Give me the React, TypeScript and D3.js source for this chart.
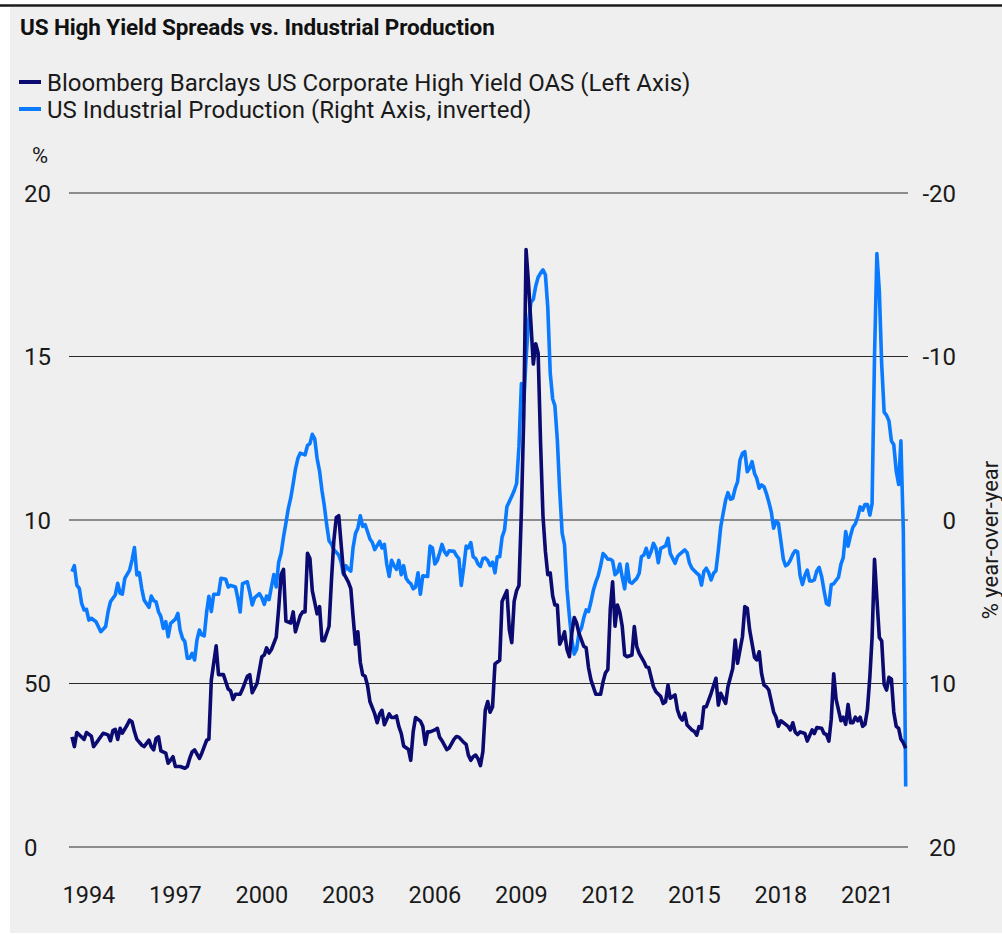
import React from "react";
import * as d3 from "d3";

// Bloomberg Barclays US Corporate High Yield OAS (%), left axis
const hyOas: [string, number][] = [
  ["1993-06", 3.37], ["1993-07", 3.07], ["1993-08", 3.5], ["1993-11", 3.29], ["1993-12", 3.5],
  ["1994-02", 3.39], ["1994-03", 3.07], ["1994-05", 3.27], ["1994-07", 3.48], ["1994-09", 3.43],
  ["1994-10", 3.25], ["1994-11", 3.56], ["1994-12", 3.6], ["1995-01", 3.29], ["1995-02", 3.63],
  ["1995-03", 3.48], ["1995-05", 3.73], ["1995-06", 3.88], ["1995-07", 3.83], ["1995-08", 3.53],
  ["1995-09", 3.29], ["1995-11", 3.12], ["1995-12", 3.07], ["1996-02", 3.27], ["1996-03", 3.07],
  ["1996-04", 2.97], ["1996-05", 3.32], ["1996-06", 3.37], ["1996-07", 2.94], ["1996-09", 2.87],
  ["1996-10", 2.56], ["1996-11", 2.66], ["1996-12", 2.76], ["1997-01", 2.46], ["1997-03", 2.46],
  ["1997-05", 2.41], ["1997-06", 2.46], ["1997-07", 2.71], ["1997-08", 2.91], ["1997-09", 2.97],
  ["1997-11", 2.71], ["1997-12", 2.87], ["1998-02", 3.27], ["1998-03", 3.3], ["1998-04", 5.11],
  ["1998-06", 6.15], ["1998-07", 5.27], ["1998-09", 5.27], ["1998-11", 4.83], ["1998-12", 4.78],
  ["1999-01", 4.51], ["1999-02", 4.67], ["1999-04", 4.67], ["1999-05", 4.83], ["1999-07", 5.22],
  ["1999-08", 5.27], ["1999-09", 4.72], ["1999-11", 5.0], ["2000-01", 5.82], ["2000-02", 5.87],
  ["2000-03", 6.09], ["2000-04", 5.93], ["2000-05", 6.04], ["2000-07", 6.42], ["2000-08", 7.29],
  ["2000-09", 8.33], ["2000-10", 8.49], ["2000-11", 6.91], ["2001-01", 6.85], ["2001-02", 7.19],
  ["2001-03", 6.58], ["2001-05", 7.07], ["2001-06", 7.19], ["2001-07", 7.19], ["2001-08", 8.98],
  ["2001-09", 8.82], ["2001-10", 7.84], ["2001-12", 7.13], ["2002-01", 7.35], ["2002-02", 6.31],
  ["2002-03", 6.31], ["2002-05", 6.75], ["2002-06", 8.17], ["2002-07", 9.37], ["2002-08", 10.08],
  ["2002-09", 10.13], ["2002-10", 9.26], ["2002-11", 8.38], ["2003-01", 8.1], ["2003-02", 7.9],
  ["2003-03", 7.07], ["2003-04", 6.2], ["2003-05", 6.58], ["2003-06", 5.65], ["2003-07", 5.27],
  ["2003-08", 5.22], ["2003-09", 4.94], ["2003-10", 4.45], ["2003-12", 4.07], ["2004-01", 3.8],
  ["2004-02", 4.07], ["2004-03", 4.18], ["2004-04", 3.74], ["2004-06", 4.07], ["2004-07", 3.96],
  ["2004-08", 3.96], ["2004-09", 4.01], ["2004-10", 3.69], ["2004-11", 3.47], ["2004-12", 3.09],
  ["2005-02", 2.98], ["2005-03", 2.65], ["2005-04", 3.52], ["2005-05", 3.96], ["2005-07", 3.85],
  ["2005-08", 3.69], ["2005-09", 3.14], ["2005-10", 3.52], ["2005-11", 3.52], ["2006-01", 3.58],
  ["2006-02", 3.63], ["2006-03", 3.36], ["2006-04", 3.25], ["2006-06", 2.98], ["2006-07", 3.03],
  ["2006-09", 3.3], ["2006-10", 3.38], ["2006-11", 3.36], ["2007-01", 3.2], ["2007-02", 3.14],
  ["2007-03", 2.81], ["2007-04", 2.65], ["2007-05", 2.76], ["2007-06", 2.81], ["2007-07", 2.7],
  ["2007-08", 2.49], ["2007-09", 2.92], ["2007-10", 4.18], ["2007-11", 4.45], ["2007-12", 4.12],
  ["2008-01", 4.28], ["2008-02", 5.6], ["2008-04", 5.71], ["2008-05", 7.51], ["2008-07", 7.84],
  ["2008-08", 6.64], ["2008-09", 6.25], ["2008-10", 7.51], ["2008-11", 7.84], ["2008-12", 8.0],
  ["2009-01", 10.3], ["2009-02", 13.3], ["2009-03", 18.27], ["2009-04", 17.23], ["2009-05", 16.03],
  ["2009-06", 14.77], ["2009-07", 15.39], ["2009-08", 15.1], ["2009-09", 12.32], ["2009-10", 10.13],
  ["2009-11", 9.04], ["2009-12", 8.33], ["2010-01", 8.38], ["2010-02", 7.68], ["2010-03", 7.4],
  ["2010-04", 7.4], ["2010-05", 6.2], ["2010-06", 6.36], ["2010-07", 6.58], ["2010-08", 6.04],
  ["2010-09", 5.82], ["2010-10", 6.53], ["2010-11", 7.02], ["2010-12", 6.85], ["2011-01", 6.53],
  ["2011-03", 6.14], ["2011-04", 6.09], ["2011-05", 5.49], ["2011-06", 5.11], ["2011-08", 4.67],
  ["2011-10", 4.67], ["2011-11", 5.05], ["2011-12", 5.32], ["2012-01", 5.43], ["2012-02", 7.29],
  ["2012-03", 8.11], ["2012-04", 6.75], ["2012-05", 7.4], ["2012-06", 7.18], ["2012-07", 6.75],
  ["2012-08", 5.87], ["2012-09", 5.82], ["2012-11", 5.87], ["2012-12", 6.74], ["2013-01", 6.13],
  ["2013-02", 5.92], ["2013-04", 5.67], ["2013-05", 5.51], ["2013-06", 5.49], ["2013-08", 4.9],
  ["2013-09", 4.75], ["2013-11", 4.6], ["2013-12", 4.39], ["2014-01", 4.44], ["2014-02", 4.95],
  ["2014-03", 4.55], ["2014-05", 4.65], ["2014-06", 4.19], ["2014-07", 3.98], ["2014-08", 3.88],
  ["2014-09", 4.09], ["2014-10", 3.73], ["2014-12", 3.58], ["2015-01", 3.53], ["2015-02", 3.42],
  ["2015-03", 3.68], ["2015-04", 3.63], ["2015-05", 4.29], ["2015-06", 4.29], ["2015-08", 4.7],
  ["2015-10", 5.16], ["2015-11", 4.34], ["2015-12", 4.7], ["2016-02", 4.39], ["2016-03", 4.9],
  ["2016-05", 5.46], ["2016-06", 6.33], ["2016-07", 5.62], ["2016-09", 6.43], ["2016-10", 7.35],
  ["2016-11", 7.3], ["2016-12", 6.64], ["2017-02", 5.8], ["2017-03", 5.72], ["2017-04", 5.97],
  ["2017-05", 5.31], ["2017-06", 4.95], ["2017-07", 4.9], ["2017-08", 4.8], ["2017-10", 4.13],
  ["2017-11", 3.97], ["2017-12", 3.69], ["2018-01", 3.86], ["2018-03", 3.75], ["2018-04", 3.69],
  ["2018-05", 3.58], ["2018-06", 3.8], ["2018-07", 3.52], ["2018-08", 3.44], ["2018-09", 3.52],
  ["2018-11", 3.47], ["2018-12", 3.24], ["2019-01", 3.41], ["2019-02", 3.58], ["2019-03", 3.47],
  ["2019-04", 3.65], ["2019-06", 3.63], ["2019-07", 3.47], ["2019-08", 3.44], ["2019-09", 3.24],
  ["2019-10", 3.91], ["2019-11", 5.3], ["2019-12", 4.52], ["2020-02", 3.86], ["2020-03", 3.97],
  ["2020-04", 3.75], ["2020-05", 4.36], ["2020-06", 3.8], ["2020-07", 3.8], ["2020-08", 3.97],
  ["2020-09", 3.86], ["2020-10", 3.97], ["2020-11", 3.69], ["2020-12", 3.75], ["2021-01", 4.2],
  ["2021-02", 5.2], ["2021-03", 6.4], ["2021-04", 8.8], ["2021-05", 7.6], ["2021-06", 6.41],
  ["2021-07", 6.3], ["2021-08", 4.97], ["2021-09", 4.8], ["2021-10", 5.19], ["2021-11", 5.13],
  ["2021-12", 4.13], ["2022-01", 3.69], ["2022-02", 3.63], ["2022-03", 3.3], ["2022-04", 3.19],
  ["2022-05", 3.02],
];

// US Industrial Production, % year-over-year, right axis (inverted)
const industrialProduction: [string, number][] = [
  ["1993-06", 3.16], ["1993-07", 2.79], ["1993-08", 3.98], ["1993-09", 4.18], ["1993-10", 5.1],
  ["1993-11", 5.5], ["1993-12", 5.46], ["1994-01", 6.12], ["1994-02", 6.01], ["1994-04", 6.22],
  ["1994-06", 6.83], ["1994-08", 6.52], ["1994-09", 5.61], ["1994-10", 5.0], ["1994-12", 4.59],
  ["1995-01", 3.87], ["1995-02", 4.48], ["1995-03", 4.53], ["1995-04", 3.57], ["1995-06", 3.06],
  ["1995-07", 2.45], ["1995-08", 1.69], ["1995-09", 3.36], ["1995-10", 3.22], ["1995-11", 4.18],
  ["1995-12", 4.89], ["1996-02", 5.34], ["1996-03", 4.65], ["1996-04", 4.93], ["1996-05", 5.0],
  ["1996-06", 5.61], ["1996-07", 5.91], ["1996-08", 6.63], ["1996-09", 6.22], ["1996-10", 7.14],
  ["1996-11", 6.32], ["1997-01", 6.07], ["1997-02", 5.71], ["1997-03", 6.73], ["1997-04", 7.24],
  ["1997-05", 7.44], ["1997-06", 8.46], ["1997-07", 8.46], ["1997-08", 8.15], ["1997-09", 8.56],
  ["1997-10", 7.34], ["1997-11", 6.73], ["1997-12", 7.03], ["1998-01", 7.09], ["1998-02", 5.61],
  ["1998-03", 4.67], ["1998-04", 5.6], ["1998-05", 4.54], ["1998-07", 4.54], ["1998-08", 3.56],
  ["1998-10", 3.63], ["1998-11", 4.1], ["1998-12", 4.0], ["1999-02", 4.1], ["1999-03", 4.76],
  ["1999-04", 5.63], ["1999-05", 3.89], ["1999-07", 3.78], ["1999-08", 4.43], ["1999-09", 5.2],
  ["1999-10", 4.76], ["1999-12", 4.5], ["2000-01", 4.76], ["2000-02", 5.16], ["2000-03", 4.65],
  ["2000-04", 4.87], ["2000-05", 4.1], ["2000-06", 3.34], ["2000-07", 4.1], ["2000-08", 2.58],
  ["2000-09", 2.03], ["2000-10", 1.05], ["2000-11", 0.18], ["2000-12", -0.7], ["2001-01", -1.35],
  ["2001-02", -2.23], ["2001-03", -3.1], ["2001-04", -3.76], ["2001-05", -4.09], ["2001-07", -3.98],
  ["2001-08", -4.56], ["2001-09", -4.67], ["2001-10", -5.24], ["2001-11", -4.96], ["2001-12", -3.76],
  ["2002-01", -2.99], ["2002-02", -1.79], ["2002-03", -0.92], ["2002-04", 0.28], ["2002-05", 1.27],
  ["2002-06", 1.49], ["2002-07", 1.81], ["2002-09", 2.14], ["2002-10", 2.58], ["2002-11", 3.34],
  ["2002-12", 2.79], ["2003-01", 3.0], ["2003-02", 3.13], ["2003-03", 1.7], ["2003-04", 0.83],
  ["2003-05", 0.5], ["2003-06", -0.26], ["2003-07", 0.39], ["2003-08", 0.28], ["2003-09", 0.72],
  ["2003-10", 1.16], ["2003-11", 1.38], ["2003-12", 1.81], ["2004-02", 1.31], ["2004-03", 1.71],
  ["2004-04", 1.49], ["2004-05", 2.69], ["2004-06", 3.45], ["2004-07", 2.47], ["2004-08", 2.79],
  ["2004-09", 3.02], ["2004-10", 2.47], ["2004-11", 3.34], ["2004-12", 2.79], ["2005-01", 3.56],
  ["2005-02", 3.78], ["2005-03", 3.89], ["2005-04", 4.21], ["2005-05", 4.1], ["2005-06", 3.23],
  ["2005-07", 4.54], ["2005-08", 3.41], ["2005-10", 3.45], ["2005-11", 1.6], ["2005-12", 1.71],
  ["2006-01", 2.69], ["2006-02", 2.47], ["2006-03", 2.03], ["2006-04", 1.49], ["2006-05", 1.92],
  ["2006-06", 2.14], ["2006-07", 1.88], ["2006-09", 1.92], ["2006-10", 2.18], ["2006-11", 2.36],
  ["2006-12", 4.0], ["2007-01", 2.91], ["2007-02", 1.6], ["2007-03", 1.71], ["2007-04", 1.38],
  ["2007-05", 2.25], ["2007-06", 2.36], ["2007-07", 2.69], ["2007-08", 2.84], ["2007-09", 2.36],
  ["2007-10", 2.32], ["2007-11", 2.47], ["2007-12", 2.79], ["2008-01", 2.58], ["2008-02", 3.23],
  ["2008-03", 2.25], ["2008-04", 2.25], ["2008-05", 1.05], ["2008-06", 0.61], ["2008-07", -0.81],
  ["2008-09", -1.46], ["2008-10", -1.79], ["2008-11", -2.23], ["2008-12", -4.5], ["2009-01", -8.34],
  ["2009-02", -7.25], ["2009-03", -9.9], ["2009-04", -12.1], ["2009-05", -13.3], ["2009-06", -13.5],
  ["2009-07", -14.3], ["2009-08", -14.85], ["2009-09", -15.1], ["2009-10", -15.3], ["2009-11", -15.0],
  ["2009-12", -13.0], ["2010-01", -9.0], ["2010-02", -7.4], ["2010-03", -7.0], ["2010-04", -4.9],
  ["2010-05", -1.8], ["2010-06", 0.8], ["2010-07", 1.5], ["2010-08", 4.2], ["2010-09", 5.9],
  ["2010-10", 7.3], ["2010-11", 8.2], ["2010-12", 7.9], ["2011-01", 6.9], ["2011-02", 6.6],
  ["2011-03", 6.0], ["2011-04", 5.5], ["2011-05", 5.6], ["2011-06", 5.0], ["2011-07", 4.3],
  ["2011-08", 3.8], ["2011-09", 3.4], ["2011-10", 2.8], ["2011-11", 2.05], ["2011-12", 2.2],
  ["2012-01", 2.4], ["2012-02", 2.4], ["2012-03", 2.5], ["2012-04", 3.34], ["2012-05", 3.2],
  ["2012-06", 2.69], ["2012-07", 3.5], ["2012-08", 4.21], ["2012-09", 2.69], ["2012-10", 3.77],
  ["2012-11", 3.87], ["2013-01", 3.57], ["2013-02", 3.26], ["2013-03", 2.24], ["2013-04", 2.14],
  ["2013-05", 1.73], ["2013-06", 2.28], ["2013-07", 1.94], ["2013-08", 1.43], ["2013-09", 1.73],
  ["2013-10", 2.61], ["2013-11", 1.73], ["2014-01", 1.59], ["2014-02", 1.12], ["2014-03", 2.04],
  ["2014-05", 2.65], ["2014-06", 2.24], ["2014-07", 2.08], ["2014-09", 1.83], ["2014-10", 2.0],
  ["2014-11", 2.65], ["2014-12", 2.95], ["2015-02", 3.26], ["2015-03", 3.36], ["2015-04", 3.98],
  ["2015-05", 3.16], ["2015-06", 2.95], ["2015-07", 3.22], ["2015-08", 3.67], ["2015-09", 3.26],
  ["2015-10", 3.1], ["2015-11", 1.83], ["2015-12", 0.41], ["2016-01", -0.41], ["2016-02", -1.22],
  ["2016-03", -1.67], ["2016-04", -1.27], ["2016-05", -1.33], ["2016-06", -1.94], ["2016-07", -2.34],
  ["2016-08", -3.67], ["2016-09", -4.08], ["2016-10", -4.18], ["2016-11", -2.95], ["2016-12", -3.16],
  ["2017-01", -3.57], ["2017-02", -2.85], ["2017-03", -2.55], ["2017-04", -1.94], ["2017-05", -2.14],
  ["2017-06", -2.04], ["2017-07", -1.63], ["2017-08", -1.1], ["2017-09", -0.5], ["2017-10", 0.5],
  ["2017-11", 0.06], ["2017-12", 0.2], ["2018-01", 1.3], ["2018-02", 2.4], ["2018-03", 2.8],
  ["2018-04", 2.7], ["2018-05", 2.45], ["2018-06", 2.1], ["2018-07", 1.88], ["2018-08", 1.95],
  ["2018-09", 3.4], ["2018-10", 3.95], ["2018-11", 3.39], ["2018-12", 3.06], ["2019-01", 3.73],
  ["2019-02", 3.73], ["2019-03", 3.65], ["2019-04", 3.1], ["2019-05", 2.9], ["2019-06", 3.45],
  ["2019-07", 4.3], ["2019-08", 5.1], ["2019-09", 5.2], ["2019-10", 3.95], ["2019-11", 3.9],
  ["2019-12", 3.7], ["2020-01", 3.5], ["2020-02", 2.7], ["2020-03", 2.3], ["2020-04", 0.7],
  ["2020-05", 1.6], ["2020-06", 0.95], ["2020-07", 0.45], ["2020-08", 0.23], ["2020-09", -0.2],
  ["2020-10", -0.8], ["2020-11", -0.6], ["2020-12", -0.95], ["2021-01", -0.95], ["2021-02", -0.3],
  ["2021-03", -1.0], ["2021-04", -10.0], ["2021-05", -16.3], ["2021-06", -14.0], ["2021-07", -9.5],
  ["2021-08", -6.6], ["2021-09", -6.4], ["2021-10", -6.06], ["2021-11", -4.84], ["2021-12", -4.6],
  ["2022-01", -3.0], ["2022-02", -2.17], ["2022-03", -4.84], ["2022-04", 0.7], ["2022-05", 16.3],
];

const xTickYears = [1994, 1997, 2000, 2003, 2006, 2009, 2012, 2015, 2018, 2021];
const leftTickValues = [0, 5, 10, 15, 20];
const leftTickLabels = ["0", "50", "10", "15", "20"];
const rightTickValues = [-20, -10, 0, 10, 20];
const rightTickLabels = ["-20", "-10", "0", "10", "20"];
const seriesNames = [
  "Bloomberg Barclays US Corporate High Yield OAS (Left Axis)",
  "US Industrial Production (Right Axis, inverted)",
];
const titleText = "US High Yield Spreads vs. Industrial Production";
const leftUnit = "%";
const rightAxisTitle = "% year-over-year";

const NAVY = "#0a0a70";
const BLUE = "#0a7bff";
const FONT = "Roboto, 'Open Sans', sans-serif";

export default function App() {
  const W = 1002;
  const H = 934;
  const parse = d3.timeParse("%Y-%m");
  const hy = hyOas.map(([d, v]) => ({ date: parse(d) as Date, value: v }));
  const ip = industrialProduction.map(([d, v]) => ({ date: parse(d) as Date, value: v }));

  const plotLeft = 72;
  const plotRight = 905.7;
  const plotTop = 193;
  const plotBottom = 847;

  const allDates = hy.map((d) => d.date).concat(ip.map((d) => d.date));
  const x = d3
    .scaleTime()
    .domain(d3.extent(allDates) as [Date, Date])
    .range([plotLeft, plotRight]);
  const yLeft = d3.scaleLinear().domain([0, 20]).range([plotBottom, plotTop]);
  const yRight = d3.scaleLinear().domain([-20, 20]).range([plotTop, plotBottom]);

  const hyLine = d3
    .line<{ date: Date; value: number }>()
    .x((d) => x(d.date))
    .y((d) => yLeft(d.value));
  const ipLine = d3
    .line<{ date: Date; value: number }>()
    .x((d) => x(d.date))
    .y((d) => yRight(d.value));

  const gridX1 = 69;
  const gridX2 = 908;

  return (
    <svg
      width={W}
      height={H}
      style={{ position: "absolute", left: 0, top: 0, display: "block" }}
      fontFamily={FONT}
    >
      <rect x={0} y={0} width={W} height={H} fill="#ffffff" />
      <rect x={10} y={7} width={W - 10} height={926} fill="#efefef" />
      <line x1={0} x2={W} y1={5.5} y2={5.5} stroke="#1a1a1a" strokeWidth={2.5} />

      <text x={20} y={35} fontSize={22.5} fontWeight={700} letterSpacing={-0.1} fill="#111">
        {titleText}
      </text>

      {seriesNames.map((name, i) => (
        <g key={name}>
          <line
            x1={19}
            x2={41}
            y1={82 + i * 27}
            y2={82 + i * 27}
            stroke={i === 0 ? NAVY : BLUE}
            strokeWidth={4}
          />
          <text x={47} y={90.5 + i * 27} fontSize={24} fill="#1a1a1a">
            {name}
          </text>
        </g>
      ))}

      <text x={32} y={163} fontSize={22} fill="#1a1a1a">
        {leftUnit}
      </text>

      {leftTickValues.map((v, i) => (
        <g key={"g" + v}>
          <line
            x1={gridX1}
            x2={gridX2}
            y1={yLeft(v)}
            y2={yLeft(v)}
            stroke="#2a2a2a"
            strokeWidth={1.2}
          />
          <text x={24} y={yLeft(v) + 8.5} fontSize={24} fill="#1a1a1a">
            {leftTickLabels[i]}
          </text>
        </g>
      ))}

      {rightTickValues.map((v, i) => (
        <text
          key={"r" + v}
          x={956}
          y={yRight(v) + 8.5}
          fontSize={24}
          textAnchor="end"
          fill="#1a1a1a"
        >
          {rightTickLabels[i]}
        </text>
      ))}

      <text
        transform={`translate(990, 540) rotate(-90)`}
        fontSize={22}
        textAnchor="middle"
        dominantBaseline="central"
        fill="#1a1a1a"
      >
        {rightAxisTitle}
      </text>

      {xTickYears.map((yr) => (
        <text
          key={"x" + yr}
          x={x(new Date(yr, 0, 1))}
          y={903}
          fontSize={23.5}
          textAnchor="middle"
          fill="#1a1a1a"
        >
          {yr}
        </text>
      ))}

      <path
        d={ipLine(ip) || ""}
        fill="none"
        stroke={BLUE}
        strokeWidth={3.6}
        strokeLinejoin="round"
      />
      <path
        d={hyLine(hy) || ""}
        fill="none"
        stroke={NAVY}
        strokeWidth={3.6}
        strokeLinejoin="round"
      />
    </svg>
  );
}
